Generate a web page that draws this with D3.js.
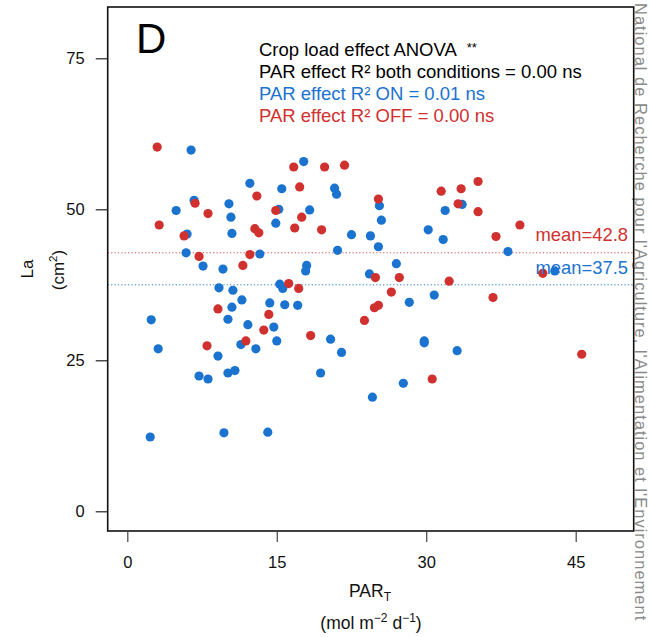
<!DOCTYPE html>
<html><head><meta charset="utf-8">
<script src="https://cdn.jsdelivr.net/npm/d3@7"></script>
<style>body{margin:0;background:#fff}svg{display:block;font-family:"Liberation Sans",Arial,sans-serif}</style>
</head><body>
<svg id="c" width="650" height="637"></svg>
<script>
// Data (PAR_T, La) for crop load ON (blue) and OFF (red)
const onX = [6.4,12.3,6.7,4.9,10.2,10.4,15.2,14.9,6.0,10.5,5.9,13.3,7.6,9.6,17.7,15.5,20.8,21.0,25.3,25.5,31.9,18.3,22.5,24.4,25.2,30.2,31.7,21.1,18.0,17.9,27.0,24.3,33.6,38.2,42.9,9.2,10.6,11.5,14.3,10.5,10.1,2.4,12.1,14.7,15.0,11.4,12.9,3.1,9.1,10.1,10.8,7.2,8.1,2.3,9.7,14.1,15.3,15.6,15.8,17.1,28.3,30.8,20.4,21.5,29.8,29.8,19.4,27.7,24.6,33.1];
const onY = [59.8,54.3,51.5,49.8,50.9,48.7,50.0,47.7,45.9,46.0,42.8,42.6,40.6,40.1,57.9,53.4,53.5,52.5,50.6,48.2,49.8,49.9,45.8,45.6,43.8,46.6,45.0,43.2,40.7,39.8,41.0,39.3,50.8,43.0,39.8,37.0,36.6,35.0,34.5,33.8,31.8,31.7,30.9,30.5,28.2,27.6,26.9,26.9,25.7,22.9,23.3,22.4,21.9,12.3,13.0,13.1,37.6,36.9,34.2,34.1,34.6,35.8,28.5,26.3,28.2,27.9,22.9,21.2,18.9,26.6];
const offX = [3.0,13.0,6.8,8.1,14.9,3.2,5.7,12.8,13.2,7.2,12.3,11.6,16.7,19.8,21.8,17.3,25.2,31.5,17.5,16.8,19.5,24.9,27.3,32.3,16.2,33.5,35.2,33.2,35.2,39.4,37.0,41.7,9.1,14.2,13.7,11.9,8.0,17.2,26.5,24.8,25.2,23.8,18.4,30.6,36.7,45.6];
const offY = [60.3,52.2,51.0,49.3,49.8,47.4,45.6,46.8,46.1,42.2,42.5,40.7,57.0,57.0,57.3,53.7,51.7,53.0,48.7,46.9,46.6,38.7,38.7,38.1,37.7,53.4,54.6,50.9,49.6,47.4,45.5,39.4,33.5,32.6,30.0,28.2,27.4,36.9,36.3,33.7,34.1,31.6,29.1,21.9,35.4,26.0];
const means = [42.8, 37.5]; // OFF, ON
const xTicks = [0,15,30,45];
const yTicks = [0,25,50,75];
const statLines = ["Crop load effect ANOVA", "PAR effect R\u00B2 both conditions = 0.00 ns", "PAR effect R\u00B2 ON = 0.01  ns", "PAR effect R\u00B2 OFF = 0.00 ns"];

const BLUE = "#1a73cf", RED = "#d0312f";
const svg = d3.select("#c");
const L = 107.7, R = 633.7, T = 7, B = 531;
const x = d3.scaleLinear().domain([0,45]).range([127.3,575.7]);
const y = d3.scaleLinear().domain([0,75]).range([511.3,58.3]);

// watermark
svg.append("text").attr("transform","translate(635,3) rotate(90)")
  .attr("font-size",16.5).attr("letter-spacing",1.0).attr("fill","#8a8a8a")
  .text("National de Recherche pour l'Agriculture, l'Alimentation et l'Environnement");

// mean lines
svg.append("line").attr("x1",L).attr("x2",R).attr("y1",y(means[0])).attr("y2",y(means[0]))
  .attr("stroke",RED).attr("stroke-width",1).attr("stroke-dasharray","1.2,2.2").attr("opacity",0.85);
svg.append("line").attr("x1",L).attr("x2",R).attr("y1",y(means[1])).attr("y2",y(means[1]))
  .attr("stroke",BLUE).attr("stroke-width",1).attr("stroke-dasharray","1.2,2.2").attr("opacity",0.95);

// points
const on = onX.map((v,i)=>({x:v,y:onY[i]}));
const off = offX.map((v,i)=>({x:v,y:offY[i]}));
svg.append("g").selectAll("circle").data(on).join("circle")
  .attr("cx",d=>x(d.x)).attr("cy",d=>y(d.y)).attr("r",4.6).attr("fill",BLUE);
svg.append("g").selectAll("circle").data(off).join("circle")
  .attr("cx",d=>x(d.x)).attr("cy",d=>y(d.y)).attr("r",4.6).attr("fill",RED);

// mean labels
svg.append("text").attr("x",628).attr("y",y(means[0])-12).attr("text-anchor","end")
  .attr("font-size",18.4).attr("fill",RED).text("mean=" + means[0].toFixed(1));
svg.append("text").attr("x",628).attr("y",y(means[1])-11).attr("text-anchor","end")
  .attr("font-size",18.4).attr("fill",BLUE).text("mean=" + means[1].toFixed(1));

// frame
svg.append("rect").attr("x",L).attr("y",T).attr("width",R-L).attr("height",B-T)
  .attr("fill","none").attr("stroke","#111").attr("stroke-width",1.6);

// axes
const xAxis = d3.axisBottom(x).tickValues(xTicks).tickSize(11).tickPadding(14);
const gx = svg.append("g").attr("transform",`translate(0,${B})`).call(xAxis);
gx.select(".domain").remove();
gx.selectAll(".tick line").attr("stroke","#444").attr("stroke-width",1.2);
gx.selectAll(".tick text").attr("font-size",16.5).attr("fill","#111").attr("font-family","Liberation Sans, Arial, sans-serif");

const yAxis = d3.axisLeft(y).tickValues(yTicks).tickSize(12).tickPadding(11);
const gy = svg.append("g").attr("transform",`translate(${L},0)`).call(yAxis);
gy.select(".domain").remove();
gy.selectAll(".tick line").attr("stroke","#222").attr("stroke-width",1.2);
gy.selectAll(".tick text").attr("font-size",16.5).attr("fill","#111").attr("font-family","Liberation Sans, Arial, sans-serif");

// panel letter
svg.append("text").attr("x",136).attr("y",53).attr("font-size",42).attr("fill","#000").text("D");

// stats text
const colors = ["#000","#000",BLUE,RED];
statLines.forEach((s,i)=>{
  const t = svg.append("text").attr("x",259).attr("y",55.5+i*22.3).attr("font-size",18.5).attr("fill",colors[i]).text(s);
  if(i===0){ t.append("tspan").attr("dx",10).attr("dy",-4).attr("font-size",13).text("**"); }
});

// axis titles
const xt = svg.append("text").attr("x",370).attr("y",597).attr("text-anchor","middle").attr("font-size",17.5).attr("fill","#111");
xt.append("tspan").text("PAR");
xt.append("tspan").attr("font-size",12).attr("dy",4).text("T");
const xt2 = svg.append("text").attr("x",371).attr("y",629).attr("text-anchor","middle").attr("font-size",17.5).attr("fill","#111");
xt2.append("tspan").text("(mol m");
xt2.append("tspan").attr("font-size",12).attr("dy",-7).text("\u22122");
xt2.append("tspan").attr("dy",7).text(" d");
xt2.append("tspan").attr("font-size",12).attr("dy",-7).text("\u22121");
xt2.append("tspan").attr("dy",7).text(")");

svg.append("text").attr("transform","translate(33,269) rotate(-90)").attr("text-anchor","middle")
  .attr("font-size",17).attr("fill","#111").text("La");
const yt2 = svg.append("text").attr("transform","translate(64,270) rotate(-90)").attr("text-anchor","middle")
  .attr("font-size",17).attr("fill","#111");
yt2.append("tspan").text("(cm");
yt2.append("tspan").attr("font-size",11.5).attr("dy",-7).text("2");
yt2.append("tspan").attr("dy",7).text(")");
</script>
</body></html>
